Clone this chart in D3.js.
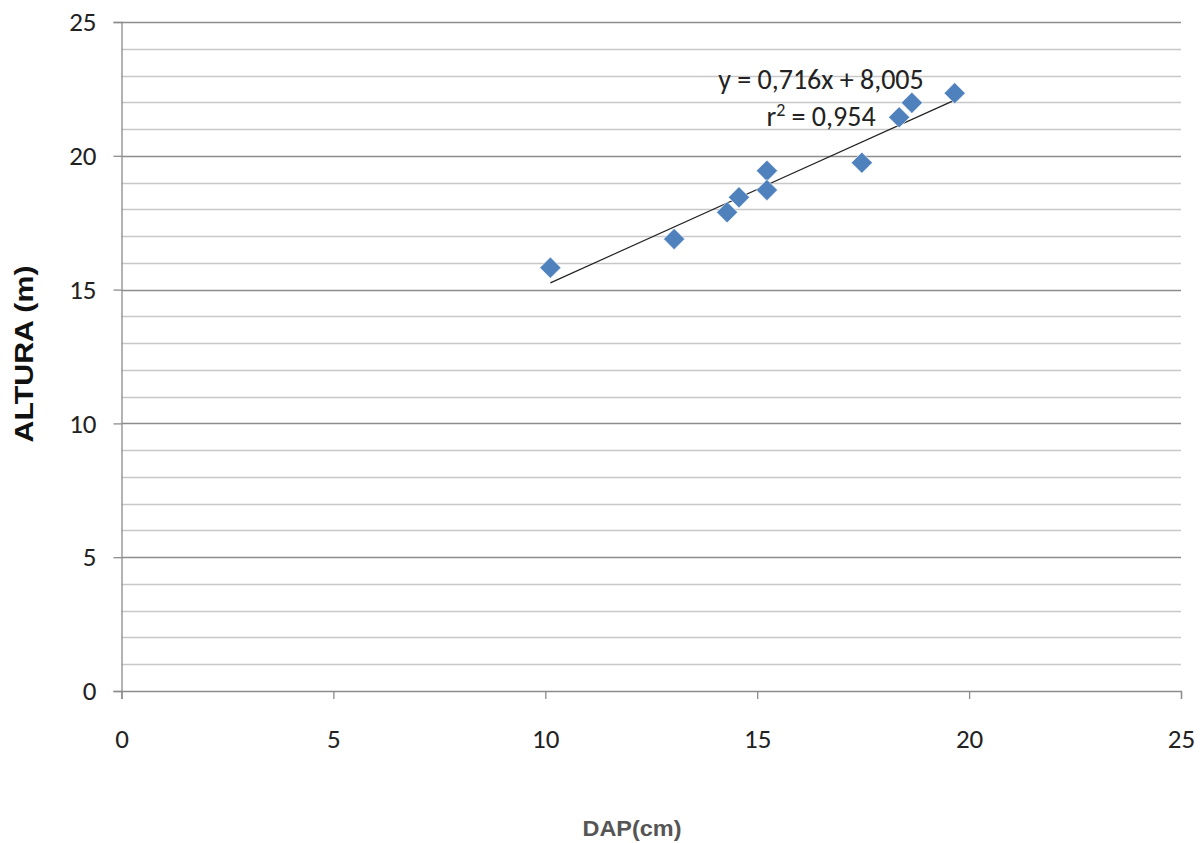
<!DOCTYPE html>
<html>
<head>
<meta charset="utf-8">
<script src="https://cdn.jsdelivr.net/npm/d3@7"></script>
<style>
  body { margin: 0; background: #fff; }
  svg { display: block; }
</style>
</head>
<body>
<svg id="chart" width="1201" height="843"></svg>
<script>
// DAP (cm) vs ALTURA (m) measurements
const dap    = [10.12, 13.04, 14.29, 14.57, 15.23, 15.23, 17.47, 18.35, 18.65, 19.66];
const altura = [15.82, 16.89, 17.89, 18.45, 19.44, 18.72, 19.74, 21.44, 21.98, 22.34];

// Linear fit reported on the chart
const slope = 0.716;
const intercept = 8.005;
const equationLabel = "y = 0,716x + 8,005";
const r2Label = "0,954";

const xTicks = [0, 5, 10, 15, 20, 25];
const yTicks = [0, 5, 10, 15, 20, 25];
const yMinor = d3.range(0, 26, 1);

const svg = d3.select("#chart");

const x = d3.scaleLinear().domain([0, 25]).range([121.5, 1181]);
const y = d3.scaleLinear().domain([0, 25]).range([691, 22]);

const tickFont = "Carlito, 'Liberation Sans Narrow', 'Open Sans', sans-serif";
const gridMajor = "#8c8c8c", gridMinor = "#c8c8c8";

// minor gridlines
svg.append("g")
  .selectAll("line")
  .data(yMinor.filter(v => v % 5 !== 0))
  .join("line")
  .attr("x1", x(0)).attr("x2", x(25))
  .attr("y1", d => Math.round(y(d)) + 0.5).attr("y2", d => Math.round(y(d)) + 0.5)
  .attr("stroke", gridMinor).attr("stroke-width", 1.3);

// major gridlines
svg.append("g")
  .selectAll("line")
  .data(yTicks.filter(v => v > 0))
  .join("line")
  .attr("x1", x(0)).attr("x2", x(25))
  .attr("y1", d => Math.round(y(d)) + 0.5).attr("y2", d => Math.round(y(d)) + 0.5)
  .attr("stroke", gridMajor).attr("stroke-width", 1.3);

// y axis
const yAxis = d3.axisLeft(y).tickValues(yTicks).tickSize(8).tickPadding(17);
const gy = svg.append("g").attr("transform", `translate(${x(0)},0)`).call(yAxis);
gy.select(".domain").attr("stroke", gridMajor).attr("stroke-width", 1.3);
gy.selectAll(".tick line").attr("stroke", gridMajor).attr("stroke-width", 1.3);
gy.selectAll(".tick text")
  .attr("font-family", tickFont).attr("font-size", 27).attr("fill", "#222");

// x axis
const xAxis = d3.axisBottom(x).tickValues(xTicks).tickSize(8).tickPadding(30);
const gx = svg.append("g").attr("transform", `translate(0,${y(0)})`).call(xAxis);
gx.select(".domain").attr("stroke", gridMajor).attr("stroke-width", 1.3);
gx.selectAll(".tick line").attr("stroke", gridMajor).attr("stroke-width", 1.3);
gx.selectAll(".tick text")
  .attr("font-family", tickFont).attr("font-size", 27).attr("fill", "#222");

// axis titles
svg.append("text")
  .attr("transform", `translate(33,354) rotate(-90)`)
  .attr("text-anchor", "middle")
  .attr("font-family", "'Liberation Sans', Arial, sans-serif")
  .attr("font-weight", "bold").attr("font-size", 25).attr("fill", "#111")
  .attr("textLength", 177).attr("lengthAdjust", "spacingAndGlyphs")
  .text("ALTURA (m)");

svg.append("text")
  .attr("x", 632).attr("y", 836)
  .attr("text-anchor", "middle")
  .attr("font-family", "'Liberation Sans', Arial, sans-serif")
  .attr("font-weight", "bold").attr("font-size", 22).attr("fill", "#555")
  .attr("textLength", 99).attr("lengthAdjust", "spacingAndGlyphs")
  .text("DAP(cm)");

// trendline across the data range
const xMin = d3.min(dap), xMax = d3.max(dap);
svg.append("line")
  .attr("x1", x(xMin)).attr("y1", y(slope * xMin + intercept))
  .attr("x2", x(xMax)).attr("y2", y(slope * xMax + intercept))
  .attr("stroke", "#222").attr("stroke-width", 1.2);

// diamond markers
svg.append("g")
  .selectAll("path")
  .data(dap.map((d, i) => [d, altura[i]]))
  .join("path")
  .attr("transform", d => `translate(${x(d[0])},${y(d[1])}) rotate(45)`)
  .attr("d", d3.symbol().type(d3.symbolSquare).size(225))
  .attr("fill", "#4f81bd")
  .attr("stroke", "#fff").attr("stroke-width", 0.6);

// regression label
const eq = svg.append("g")
  .attr("font-family", tickFont).attr("font-size", 28).attr("fill", "#222");
eq.append("text").attr("x", 821).attr("y", 89).attr("text-anchor", "middle").text(equationLabel);
const r2 = eq.append("text").attr("x", 821).attr("y", 126).attr("text-anchor", "middle");
r2.append("tspan").text("r");
r2.append("tspan").attr("dy", -10).attr("font-size", 18).text("2");
r2.append("tspan").attr("dy", 10).text(" = " + r2Label);
</script>
</body>
</html>
